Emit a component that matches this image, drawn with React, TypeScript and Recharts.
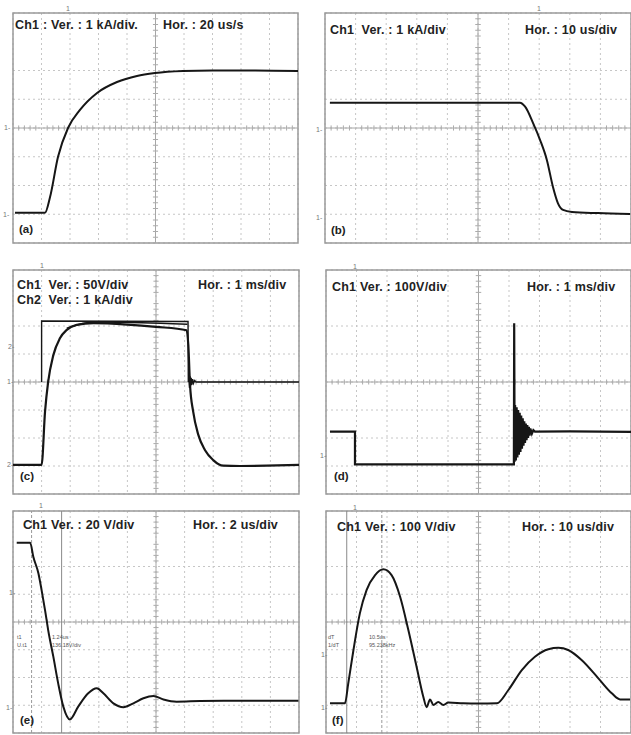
import React from 'react';
import { LineChart, Line, XAxis, YAxis, CartesianGrid, ReferenceLine, ReferenceArea } from 'recharts';

// ---- grid (divisions) ----
const GRID_X = [0, 1, 2, 3, 4, 5, 6, 7, 8, 9, 10];
const GRID_Y = [0, 1, 2, 3, 4, 5, 6, 7, 8];
const MINOR_X = [0.2,0.4,0.6,0.8,1.2,1.4,1.6,1.8,2.2,2.4,2.6,2.8,3.2,3.4,3.6,3.8,4.2,4.4,4.6,4.8,5.2,5.4,5.6,5.8,6.2,6.4,6.6,6.8,7.2,7.4,7.6,7.8,8.2,8.4,8.6,8.8,9.2,9.4,9.6,9.8];
const MINOR_Y = [0.2,0.4,0.6,0.8,1.2,1.4,1.6,1.8,2.2,2.4,2.6,2.8,3.2,3.4,3.6,3.8,4.2,4.4,4.6,4.8,5.2,5.4,5.6,5.8,6.2,6.4,6.6,6.8,7.2,7.4,7.6,7.8];

// ---- (a) current rise ----
const A_T = [0.07, 1.12, 1.3, 1.58, 1.93, 2.35, 2.95, 3.65, 4.35, 4.98, 5.96, 7.0, 8.5, 10];
const A_V = [1.05, 1.05, 1.6, 3.0, 4.0, 4.63, 5.22, 5.6, 5.81, 5.91, 5.98, 6.0, 6.0, 5.98];

// ---- (b) current fall ----
const B_T = [0.16, 6.37, 6.54, 6.8, 7.03, 7.25, 7.45, 7.61, 7.78, 8.07, 8.92, 9.97];
const B_V = [4.88, 4.88, 4.74, 4.17, 3.58, 2.89, 1.95, 1.39, 1.15, 1.08, 1.04, 1.01];

// ---- (c) Ch1 voltage, Ch2 current ----
const C1_T = [1.0, 1.0, 6.12, 6.13, 6.15, 6.17, 6.19, 6.21, 6.23, 6.25, 6.28, 6.31, 6.35, 6.4, 10];
const C1_V = [4.0, 6.18, 6.16, 4.0, 4.25, 3.8, 4.2, 3.85, 4.15, 3.9, 4.1, 3.95, 4.05, 4.0, 4.0];
const C2_T = [0.0, 1.0, 1.12, 1.23, 1.41, 1.64, 1.88, 2.23, 2.81, 4.0, 5.0, 6.07, 6.13, 6.19, 6.3, 6.48, 6.71, 7.0, 7.35, 7.94, 8.87, 10];
const C2_V = [1.04, 1.04, 2.94, 4.01, 4.96, 5.56, 5.86, 6.04, 6.1, 6.05, 5.97, 5.85, 5.32, 3.89, 2.94, 2.11, 1.57, 1.21, 1.01, 1.0, 1.01, 1.04];
const C2H_T = [1.88, 2.81, 4.5, 6.1];
const C2H_V = [5.92, 6.14, 6.12, 6.06];

// ---- (d) voltage with spike and ringing ----
const D_T = [0.13, 0.95, 0.95, 6.16, 6.17, 6.185, 6.2, 6.225, 6.25, 6.275, 6.3, 6.325, 6.35, 6.375, 6.4, 6.425, 6.45, 6.475, 6.5, 6.525, 6.55, 6.575, 6.6, 6.625, 6.65, 6.675, 6.7, 6.75, 6.8, 6.85, 8.0, 10];
const D_V = [2.23, 2.23, 1.06, 1.06, 6.1, 1.15, 3.18, 1.2, 3.1, 1.3, 3.0, 1.4, 2.9, 1.5, 2.8, 1.62, 2.7, 1.72, 2.6, 1.82, 2.52, 1.92, 2.46, 2.0, 2.4, 2.08, 2.34, 2.15, 2.28, 2.23, 2.24, 2.22];

// ---- (e) damped voltage ----
const E_T = [0.13, 0.6, 0.71, 0.89, 1.0, 1.12, 1.23, 1.41, 1.58, 1.76, 1.99, 2.28, 2.63, 2.93, 3.16, 3.51, 3.86, 4.21, 4.56, 4.91, 5.26, 5.72, 6.54, 7.7, 8.87, 9.98];
const E_V = [6.86, 6.86, 6.35, 5.75, 5.15, 4.43, 3.71, 2.75, 1.79, 0.95, 0.49, 0.95, 1.43, 1.61, 1.43, 1.07, 0.93, 1.07, 1.25, 1.33, 1.21, 1.13, 1.15, 1.16, 1.16, 1.16];

// ---- (f) pulse voltage ----
const F_T = [0.13, 0.62, 0.73, 0.9, 1.11, 1.33, 1.61, 1.88, 2.15, 2.43, 2.7, 2.97, 3.19, 3.3, 3.41, 3.52, 3.68, 3.85, 4.01, 4.5, 5.0, 5.6, 5.98, 6.42, 6.85, 7.29, 7.62, 7.94, 8.38, 8.93, 9.37, 9.64, 9.97];
const F_V = [1.07, 1.07, 1.79, 2.99, 4.31, 5.15, 5.69, 5.9, 5.69, 4.91, 3.71, 2.39, 1.31, 0.93, 1.21, 1.01, 1.12, 1.01, 1.1, 1.07, 1.06, 1.07, 1.55, 2.27, 2.75, 3.02, 3.07, 2.99, 2.63, 1.97, 1.43, 1.21, 1.21];

// ---- texts ----
const HEADERS = [
  { x: 15, y: 25, t: 'Ch1 : Ver. : 1 kA/div.' },
  { x: 163, y: 25, t: 'Hor. : 20 us/s' },
  { x: 330, y: 30, t: 'Ch1  Ver. : 1 kA/div' },
  { x: 525, y: 30, t: 'Hor. : 10 us/div' },
  { x: 17, y: 285, t: 'Ch1  Ver. : 50V/div' },
  { x: 17, y: 300, t: 'Ch2  Ver. : 1 kA/div' },
  { x: 198, y: 285, t: 'Hor. : 1 ms/div' },
  { x: 332, y: 287, t: 'Ch1 Ver. : 100V/div' },
  { x: 527, y: 287, t: 'Hor. : 1 ms/div' },
  { x: 23, y: 525, t: 'Ch1 Ver. : 20 V/div' },
  { x: 193, y: 525, t: 'Hor. : 2 us/div' },
  { x: 337, y: 527, t: 'Ch1 Ver. : 100 V/div' },
  { x: 522, y: 527, t: 'Hor. : 10 us/div' },
];
const TAGS = [
  { x: 19, y: 229, t: '(a)' }, { x: 331, y: 230, t: '(b)' },
  { x: 20, y: 476, t: '(c)' }, { x: 334, y: 476, t: '(d)' },
  { x: 20, y: 720, t: '(e)' }, { x: 332, y: 720, t: '(f)' },
];
const MARKS = [
  { x: 66, y: 9, t: '1' }, { x: 537, y: 9, t: '1' }, { x: 40, y: 266, t: '1' },
  { x: 353, y: 267, t: '1' }, { x: 39, y: 506, t: '1' }, { x: 353, y: 508, t: '1' },
  { x: 4, y: 128, t: '1-' }, { x: 3, y: 215, t: '1-' }, { x: 316, y: 130, t: '1-' }, { x: 316, y: 218, t: '1-' },
  { x: 8, y: 347, t: '2-' }, { x: 7, y: 382, t: '1-' }, { x: 7, y: 465, t: '2-' },
  { x: 320, y: 456, t: '1-' }, { x: 9, y: 593, t: '1-' }, { x: 6, y: 708, t: '1-' },
  { x: 321, y: 655, t: '1-' }, { x: 321, y: 708, t: '1-' },
];
const CURSOR_TEXT = [
  { x: 17, y: 637, t: 't1' }, { x: 17, y: 645, t: 'U.t1' },
  { x: 52, y: 637, t: '1.24us' }, { x: 52, y: 645, t: '136.18V/div' },
  { x: 328, y: 637, t: 'dT' }, { x: 328, y: 645, t: '1/dT' },
  { x: 369, y: 637, t: '10.5us' }, { x: 369, y: 645, t: '95.238kHz' },
];

type Geo = { x: number; y: number; w: number; h: number };
type Series = { t: number[]; v: number[]; w?: number; curve?: 'linear' | 'monotone' };

const PAD = 3;
const toPts = (t: number[], v: number[]) => t.map((x, i) => ({ t: x, v: v[i] }));

function Panel({ g, series, cursors = [], dashedCursors = [] }: { g: Geo; series: Series[]; cursors?: number[]; dashedCursors?: number[] }) {
  return (
    <div style={{ position: 'absolute', left: g.x - PAD, top: g.y - PAD }}>
      <LineChart width={g.w + 2 * PAD} height={g.h + 2 * PAD} margin={{ top: PAD, right: PAD, bottom: PAD, left: PAD }}>
        <XAxis type="number" dataKey="t" domain={[0, 10]} ticks={GRID_X} hide allowDataOverflow />
        <YAxis type="number" dataKey="v" domain={[0, 8]} ticks={GRID_Y} hide allowDataOverflow />
        <CartesianGrid stroke="#c6c6c6" strokeDasharray="2 3" />
        <ReferenceLine x={5} stroke="#a6a6a6" />
        <ReferenceLine y={4} stroke="#a6a6a6" />
        {MINOR_X.map((m) => (
          <ReferenceLine key={'mx' + m} segment={[{ x: m, y: 3.91 }, { x: m, y: 4.09 }]} stroke="#ababab" />
        ))}
        {MINOR_Y.map((m) => (
          <ReferenceLine key={'my' + m} segment={[{ x: 4.91, y: m }, { x: 5.09, y: m }]} stroke="#ababab" />
        ))}
        {cursors.map((c) => (
          <ReferenceLine key={'c' + c} x={c} stroke="#8a8a8a" />
        ))}
        {dashedCursors.map((c) => (
          <ReferenceLine key={'d' + c} x={c} stroke="#9a9a9a" strokeDasharray="3 2" />
        ))}
        <ReferenceArea x1={0} x2={10} y1={0} y2={8} fill="none" fillOpacity={0} stroke="#9a9a9a" strokeWidth={1.5} />
        {series.map((s, i) => (
          <Line
            key={i}
            data={toPts(s.t, s.v)}
            dataKey="v"
            type={s.curve || 'linear'}
            stroke="#161616"
            strokeWidth={s.w || 1.8}
            dot={false}
            activeDot={false}
            isAnimationActive={false}
          />
        ))}
      </LineChart>
    </div>
  );
}

const textBase: React.CSSProperties = {
  position: 'absolute',
  fontFamily: '"Liberation Sans", Arial, sans-serif',
  whiteSpace: 'pre',
  lineHeight: '14px',
};

export default function App() {
  return (
    <div style={{ position: 'absolute', left: 0, top: 0, width: 631, height: 735, background: '#fff', overflow: 'hidden' }}>
      <Panel g={{ x: 13, y: 13, w: 285, h: 230 }} series={[{ t: A_T, v: A_V, curve: 'monotone', w: 2 }]} />
      <Panel g={{ x: 325, y: 13, w: 306, h: 230 }} series={[{ t: B_T, v: B_V, curve: 'monotone', w: 2 }]} />
      <Panel
        g={{ x: 13, y: 270, w: 286, h: 224 }}
        series={[
          { t: C2H_T, v: C2H_V, curve: 'monotone', w: 1.5 },
          { t: C2_T, v: C2_V, curve: 'monotone', w: 2.2 },
          { t: C1_T, v: C1_V, w: 1.4 },
        ]}
      />
      <Panel g={{ x: 326, y: 270, w: 305, h: 224 }} series={[{ t: D_T, v: D_V, w: 2.2 }]} />
      <Panel g={{ x: 13, y: 511, w: 286, h: 222 }} series={[{ t: E_T, v: E_V, curve: 'monotone', w: 2 }]} cursors={[1.7]} dashedCursors={[0.65]} />
      <Panel g={{ x: 326, y: 511, w: 305, h: 222 }} series={[{ t: F_T, v: F_V, curve: 'monotone', w: 2 }]} cursors={[0.68]} dashedCursors={[1.83]} />

      {HEADERS.map((h, i) => (
        <div key={'h' + i} style={{ ...textBase, left: h.x, top: h.y - 7, fontSize: 12.5, fontWeight: 700, color: '#222', letterSpacing: 0.2 }}>
          {h.t}
        </div>
      ))}
      {TAGS.map((h, i) => (
        <div key={'g' + i} style={{ ...textBase, left: h.x, top: h.y - 7, fontSize: 11.5, fontWeight: 700, color: '#222' }}>
          {h.t}
        </div>
      ))}
      {MARKS.map((h, i) => (
        <div key={'m' + i} style={{ ...textBase, left: h.x, top: h.y - 7, fontSize: 7, color: '#777' }}>
          {h.t}
        </div>
      ))}
      {CURSOR_TEXT.map((h, i) => (
        <div key={'ct' + i} style={{ ...textBase, left: h.x, top: h.y - 7, fontSize: 5.5, color: '#555' }}>
          {h.t}
        </div>
      ))}
    </div>
  );
}
